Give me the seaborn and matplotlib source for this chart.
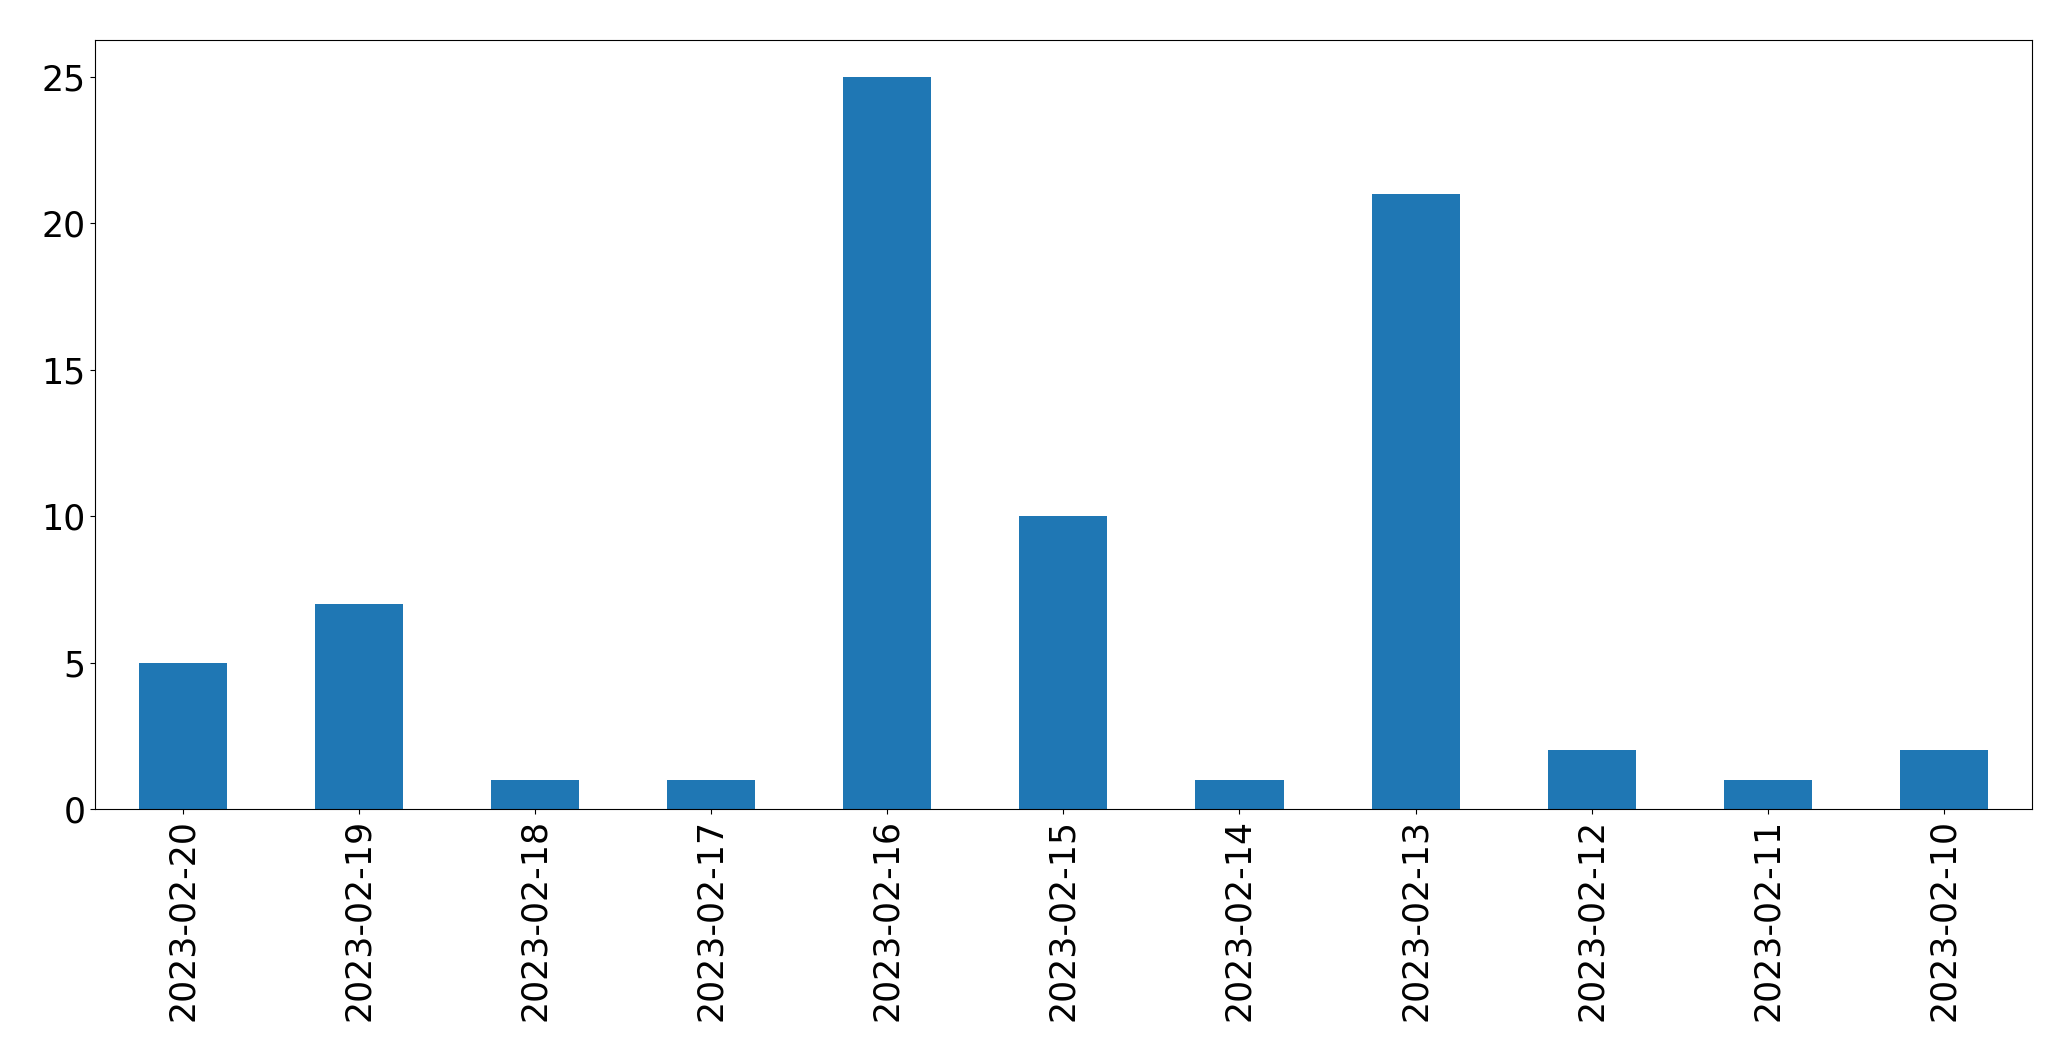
import pandas as pd
import matplotlib
matplotlib.use('Agg')
import matplotlib.pyplot as plt
import seaborn as sns

# Counts per day, newest first (as in the reference)
dates = ['2023-02-20', '2023-02-19', '2023-02-18', '2023-02-17', '2023-02-16',
         '2023-02-15', '2023-02-14', '2023-02-13', '2023-02-12', '2023-02-11',
         '2023-02-10']
counts = [5, 7, 1, 1, 25, 10, 1, 21, 2, 1, 2]

df = pd.DataFrame({'date': dates, 'count': counts})

fig = plt.figure(figsize=(20.71, 10.61), dpi=100)
ax = fig.add_axes([0.046, 0.2375, 0.935, 0.7245])

sns.barplot(x='date', y='count', data=df, order=dates, color='#1f77b4',
            saturation=1, width=0.5, ax=ax)

ax.set_xlim(-0.5, len(dates) - 0.5)
ax.set_ylim(0, 26.25)
ax.set_xlabel('')
ax.set_ylabel('')
ax.tick_params(axis='both', labelsize=25)
plt.setp(ax.get_xticklabels(), rotation=90)

fig.savefig('out.png', dpi=100)
